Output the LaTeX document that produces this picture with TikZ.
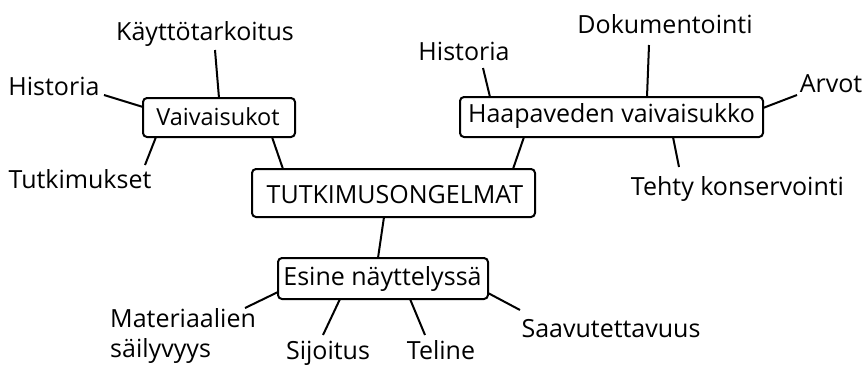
\documentclass[tikz,border=0pt]{standalone}
\usepackage{fontspec}
\setmainfont{Open Sans}
\begin{document}
\begin{tikzpicture}[x=1pt,y=-1pt,
  box/.style={draw,rounded corners=4pt,line width=2pt,inner sep=0pt},
  lab/.style={inner sep=0pt,anchor=base,font=\fontsize{25}{30}\selectfont},
  con/.style={line width=2pt}]
\useasboundingbox (0,0) rectangle (867,365);
% boxes
\node[box,minimum width=152pt,minimum height=39pt] (vai) at (219,117.5) {};
\node[box,minimum width=303pt,minimum height=40pt] (hap) at (611.5,117) {};
\node[box,minimum width=283pt,minimum height=48pt] (tut) at (393.5,193) {};
\node[box,minimum width=210pt,minimum height=41pt] (esi) at (383,278.5) {};
\node[lab,font=\fontsize{23.5}{30}\selectfont] (vait) at (218,125) {Vaivaisukot};
\node[lab] (hapt) at (611.5,122) {Haapaveden vaivaisukko};
\node[lab] (tutt) at (395,203) {TUTKIMUSONGELMAT};
\node[lab] (esit) at (382.5,285) {Esine näyttelyssä};
% labels
\node[lab] (kay) at (205,40) {Käyttötarkoitus};
\node[lab] (his1) at (54,95) {Historia};
\node[lab] (tuk) at (80,188) {Tutkimukset};
\node[lab] (his2) at (464,60) {Historia};
\node[lab] (dok) at (665,33) {Dokumentointi};
\node[lab] (arv) at (831,92) {Arvot};
\node[lab] (teh) at (737.5,195) {Tehty konservointi};
\node[lab,anchor=base west,align=left] (mat) at (110,357) {Materiaalien\\säilyvyys};
\node[lab] (sij) at (328,359) {Sijoitus};
\node[lab] (tel) at (441,359) {Teline};
\node[lab] (saa) at (611,337) {Saavutettavuus};
% connector ends
\coordinate (kayE) at (215,50);   \coordinate (kayB) at (219,98);
\coordinate (his1E) at (104,95);  \coordinate (his1B) at (143,107);
\coordinate (tukE) at (145,165);  \coordinate (tukB) at (156,137);
\coordinate (vaiB) at (272,137);  \coordinate (tutA) at (283,169);
\coordinate (hapB) at (524,137);  \coordinate (tutC) at (513,169);
\coordinate (his2E) at (483,68);  \coordinate (his2B) at (490,97);
\coordinate (dokE) at (649,45);   \coordinate (dokB) at (647,97);
\coordinate (arvE) at (797,95);   \coordinate (arvB) at (763,108);
\coordinate (tehE) at (679,167);  \coordinate (tehB) at (673,137);
\coordinate (tutD) at (384,217);  \coordinate (esiA) at (378,258);
\coordinate (matE) at (245,308);  \coordinate (matB) at (278,292);
\coordinate (sijE) at (323,335);  \coordinate (sijB) at (340,299);
\coordinate (telE) at (425,335);  \coordinate (telB) at (410,299);
\coordinate (saaE) at (520,310);  \coordinate (saaB) at (488,293);
\draw[con] (kayE) -- (kayB);
\draw[con] (his1E) -- (his1B);
\draw[con] (tukE) -- (tukB);
\draw[con] (vaiB) -- (tutA);
\draw[con] (hapB) -- (tutC);
\draw[con] (his2E) -- (his2B);
\draw[con] (dokE) -- (dokB);
\draw[con] (arvE) -- (arvB);
\draw[con] (tehE) -- (tehB);
\draw[con] (tutD) -- (esiA);
\draw[con] (matE) -- (matB);
\draw[con] (sijE) -- (sijB);
\draw[con] (telE) -- (telB);
\draw[con] (saaE) -- (saaB);
\end{tikzpicture}
\end{document}
